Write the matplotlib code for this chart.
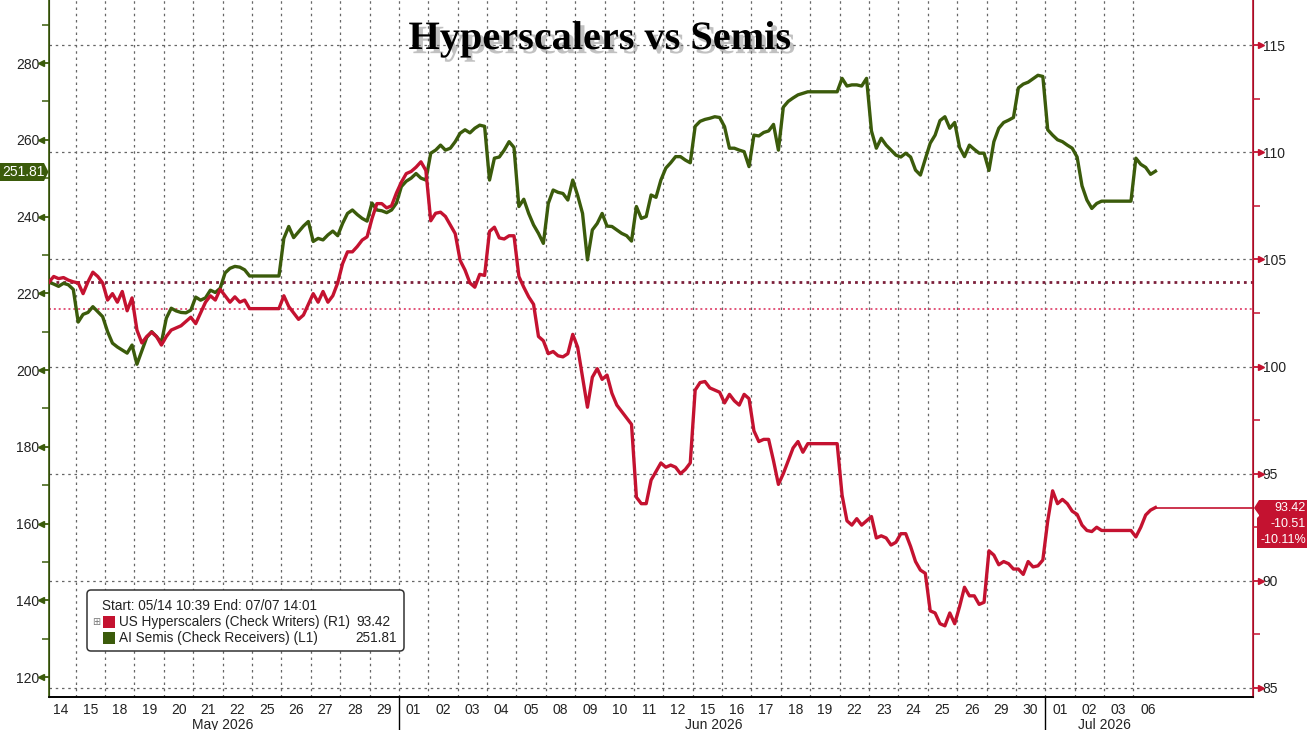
import numpy as np
import matplotlib.pyplot as plt
import matplotlib.patheffects as pe
from matplotlib.patches import FancyBboxPatch, Polygon, Rectangle
from matplotlib.transforms import Affine2D, blended_transform_factory

plt.rcParams["font.family"] = ["Liberation Sans", "DejaVu Sans"]

W, H = 1307, 730
RED = "#C41230"
GREEN = "#3B5B0B"

# trading days shown on the axis (May 14 - Jul 06 2026)
days = ["14", "15", "18", "19", "20", "21", "22", "25", "26", "27", "28", "29",
        "01", "02", "03", "04", "05", "08", "09", "10", "11", "12", "15", "16",
        "17", "18", "19", "22", "23", "24", "25", "26", "29", "30",
        "01", "02", "03", "06"]
months = ["May 2026", "Jun 2026", "Jul 2026"]
month_first_day = [0, 12, 34]
samples_per_day = 6

# AI Semis (Check Receivers), left axis, intraday readings per day
semis = [
    [222.9, 222.4, 221.8, 222.6, 222.2, 221.0],  # May 14
    [212.5, 214.5, 215.0, 216.5, 215.2, 213.9],  # 15
    [210.0, 207.0, 206.0, 205.2, 204.4, 206.5],  # 18
    [201.5, 205.0, 208.5, 210.0, 208.7, 207.2],  # 19
    [213.5, 216.1, 215.4, 215.0, 214.9, 215.6],  # 20
    [219.0, 218.2, 218.8, 220.8, 220.2, 221.3],  # 21
    [225.3, 226.5, 227.0, 226.8, 226.1, 224.5],  # 22
    [224.5, 224.5, 224.5, 224.5, 224.5, 224.5],  # 25 (closed)
    [234.3, 237.4, 234.5, 236.0, 237.5, 238.7],  # 26
    [233.5, 234.3, 233.9, 235.2, 236.2, 235.0],  # 27
    [238.2, 240.8, 241.7, 240.5, 239.5, 238.8],  # 28
    [243.5, 241.7, 241.5, 241.0, 241.7, 243.5],  # 29
    [247.8, 249.2, 250.0, 251.2, 250.0, 249.5],  # Jun 01
    [256.5, 257.3, 258.6, 257.3, 257.8, 259.5],  # 02
    [261.7, 262.6, 261.8, 263.0, 263.8, 263.5],  # 03
    [249.5, 255.2, 255.5, 257.3, 259.5, 258.0],  # 04
    [242.6, 244.5, 240.8, 237.8, 235.6, 233.0],  # 05
    [243.4, 246.9, 246.3, 246.0, 244.3, 249.5],  # 08
    [245.5, 240.8, 228.7, 236.5, 238.2, 240.8],  # 09
    [237.5, 237.4, 236.5, 235.6, 235.0, 233.6],  # 10
    [242.6, 239.5, 240.0, 245.6, 245.0, 249.5],  # 11
    [252.6, 254.0, 255.6, 255.6, 254.7, 254.0],  # 12
    [263.5, 264.8, 265.3, 265.6, 266.0, 265.8],  # 15
    [263.4, 257.8, 257.8, 257.3, 256.9, 253.0],  # 16
    [261.2, 261.0, 261.9, 262.3, 264.0, 257.3],  # 17
    [268.5, 270.0, 270.9, 271.7, 272.1, 272.5],  # 18
    [272.5, 272.5, 272.5, 272.5, 272.5, 272.5],  # 19 (closed)
    [276.0, 274.0, 274.3, 274.3, 274.0, 276.0],  # 22
    [262.3, 257.8, 260.4, 258.6, 257.3, 256.0],  # 23
    [255.5, 256.5, 255.5, 252.1, 250.8, 255.0],  # 24
    [259.1, 261.2, 265.0, 266.0, 263.0, 264.5],  # 25
    [258.0, 255.6, 258.6, 257.5, 256.5, 256.5],  # 26
    [252.0, 259.5, 263.0, 264.5, 265.1, 265.8],  # 29
    [273.5, 274.5, 275.0, 275.9, 276.8, 276.5],  # 30
    [262.6, 261.2, 260.0, 259.5, 258.6, 257.8],  # Jul 01
    [255.5, 248.0, 244.3, 242.1, 243.4, 244.0],  # 02
    [244.0, 244.0, 244.0, 244.0, 244.0, 244.0],  # 03 (closed)
    [255.2, 253.6, 252.8, 251.0, 251.81],        # 06
]

# US Hyperscalers (Check Writers), right axis
hyper = [
    [103.93, 104.2, 104.1, 104.15, 104.03, 103.95],  # May 14
    [103.9, 103.4, 103.95, 104.4, 104.2, 103.9],     # 15
    [103.1, 103.4, 103.0, 103.5, 102.6, 103.2],      # 18
    [101.7, 101.1, 101.4, 101.6, 101.4, 101.0],      # 19
    [101.4, 101.7, 101.8, 101.9, 102.1, 102.3],      # 20
    [102.0, 102.5, 103.0, 103.3, 103.1, 103.6],      # 21
    [103.3, 103.0, 103.25, 103.0, 103.1, 102.7],     # 22
    [102.7, 102.7, 102.7, 102.7, 102.7, 102.7],      # 25 (closed)
    [103.3, 102.8, 102.5, 102.2, 102.4, 102.9],      # 26
    [103.4, 103.0, 103.5, 103.0, 103.3, 103.9],      # 27
    [104.8, 105.35, 105.35, 105.6, 105.9, 106.05],   # 28
    [106.9, 107.6, 107.6, 107.4, 107.5, 108.1],      # 29
    [108.6, 109.0, 109.1, 109.3, 109.55, 109.15],    # Jun 01
    [106.8, 107.15, 107.2, 107.0, 106.6, 106.2],     # 02
    [104.95, 104.5, 103.9, 103.7, 104.3, 104.25],    # 03
    [106.3, 106.5, 106.0, 105.95, 106.1, 106.1],     # 04
    [104.2, 103.7, 103.25, 102.9, 101.4, 101.2],     # 05
    [100.6, 100.7, 100.5, 100.45, 100.6, 101.5],     # 08
    [100.9, 99.5, 98.1, 99.5, 99.9, 99.4],           # 09
    [99.6, 98.75, 98.2, 97.9, 97.6, 97.3],           # 10
    [93.9, 93.6, 93.6, 94.7, 95.1, 95.5],            # 11
    [95.3, 95.4, 95.3, 95.0, 95.2, 95.5],            # 12
    [98.9, 99.25, 99.3, 99.0, 98.9, 98.8],           # 15
    [98.3, 98.7, 98.4, 98.2, 98.7, 98.5],            # 16
    [97.0, 96.5, 96.6, 96.6, 95.6, 94.5],            # 17
    [95.0, 95.6, 96.2, 96.5, 96.0, 96.4],            # 18
    [96.4, 96.4, 96.4, 96.4, 96.4, 96.4],            # 19 (closed)
    [94.0, 92.8, 92.6, 92.9, 92.6, 92.8],            # 22
    [93.0, 92.0, 92.1, 92.0, 91.67, 91.8],           # 23
    [92.2, 92.2, 91.6, 90.9, 90.5, 90.35],           # 24
    [88.6, 88.5, 88.0, 87.9, 88.5, 88.0],            # 25
    [88.8, 89.7, 89.3, 89.3, 88.9, 89.0],            # 26
    [91.4, 91.2, 90.75, 90.9, 90.8, 90.55],          # 29
    [90.55, 90.3, 90.9, 90.65, 90.7, 90.97],         # 30
    [92.8, 94.2, 93.6, 93.8, 93.6, 93.25],           # Jul 01
    [93.1, 92.6, 92.35, 92.3, 92.5, 92.35],          # 02
    [92.35, 92.35, 92.35, 92.35, 92.35, 92.35],      # 03 (closed)
    [92.05, 92.5, 93.07, 93.3, 93.42],               # 06
]

hyper_start = 103.93
hyper_avg = 102.7
hyper_last, hyper_chg, hyper_pct = 93.42, -10.51, -10.11
semis_last = 251.81


def day_positions(series):
    xs, ys = [], []
    for i, vals in enumerate(series):
        for k, v in enumerate(vals):
            xs.append(i + (k + 0.5) / samples_per_day)
            ys.append(v)
    return np.array(xs), np.array(ys)


sx, sy = day_positions(semis)
hx, hy = day_positions(hyper)

fig = plt.figure(figsize=(W / 100, H / 100), dpi=100)
px = Affine2D().scale(1 / W, -1 / H).translate(0, 1) + fig.transFigure

ax = fig.add_axes([49 / W, 33 / H, 1204 / W, 697 / H])
ax2 = ax.twinx()
ax.set_xlim(0.09, 41.07)
ax.set_ylim(114.79, 296.42)
ax2.set_ylim(84.58, 117.1)

# grid, drawn below both lines
right_data = blended_transform_factory(ax.transAxes, ax2.transData)
for v in range(85, 116, 5):
    ax.plot([0, 1], [v, v], transform=right_data, color="#666666",
            lw=0.9, ls=(0, (2, 3)), zorder=0)
for d in range(1, len(days)):
    ax.axvline(d, color="#666666", lw=0.9, ls=(0, (2, 3)), zorder=0)
ax.plot([0, 1], [hyper_start, hyper_start], transform=right_data,
        color="#7B1F3A", lw=2, ls=(0, (1, 1.5)), zorder=1)
ax.plot([0, 1], [hyper_avg, hyper_avg], transform=right_data,
        color="#E2557A", lw=1.4, ls=(0, (1, 1.5)), zorder=1)

ax.plot(sx, sy, color=GREEN, lw=2.4, solid_joinstyle="round", zorder=3)
ax2.plot(hx, hy, color=RED, lw=2.4, solid_joinstyle="round", zorder=3)
ax2.plot([hx[-1], 41.07], [hyper_last, hyper_last], color=RED, lw=1.2,
         zorder=3)

# spines
for a in (ax, ax2):
    a.spines["top"].set_visible(False)
    a.spines["bottom"].set_color("black")
    a.spines["bottom"].set_linewidth(1.2)
ax2.spines["left"].set_color(GREEN)
ax2.spines["left"].set_linewidth(1.2)
ax2.spines["right"].set_color(RED)
ax2.spines["right"].set_linewidth(1.2)

# y ticks
ax.set_yticks(range(120, 281, 20))
ax.set_yticks(range(130, 291, 20), minor=True)
ax.tick_params(axis="y", which="major", length=6, width=1.3, color=GREEN,
               labelsize=10, labelcolor="#222222", pad=1)
ax.tick_params(axis="y", which="minor", length=5, width=1.1, color=GREEN)
ax2.set_yticks(range(85, 116, 5))
ax2.set_yticks(np.arange(87.5, 115, 5), minor=True)
ax2.tick_params(axis="y", which="major", length=6, width=1.3, color=RED,
                labelsize=10, labelcolor="#222222", pad=1)
ax2.tick_params(axis="y", which="minor", length=5, width=1.1, color=RED)

tri = 8.0 / 1204
ax.plot([-tri] * 9, list(range(120, 281, 20)), ls="none", marker="<", ms=4.5,
        color=GREEN, clip_on=False,
        transform=blended_transform_factory(ax.transAxes, ax.transData))
ax2.plot([1 + tri] * 7, list(range(85, 116, 5)), ls="none", marker=">", ms=4.5,
         color=RED, clip_on=False,
         transform=blended_transform_factory(ax2.transAxes, ax2.transData))

# x axis: day labels and month labels
ax.set_xticks([i + 0.5 for i in range(len(days))])
ax.set_xticklabels(days)
ax.tick_params(axis="x", length=0, pad=4, labelsize=10, labelcolor="#222222")
ax2.tick_params(axis="x", length=0, labelbottom=False, labeltop=False)
xdata_yaxes = blended_transform_factory(ax.transData, ax.transAxes)
month_centers = [6.0, 22.7, 36.0]
for name, c in zip(months, month_centers):
    ax.text(c, -0.0395, name, transform=xdata_yaxes, ha="center", va="center",
            fontsize=10, color="#222222")
for d in month_first_day[1:]:
    ax.plot([d, d], [0, -0.06], transform=xdata_yaxes, color="black", lw=1,
            clip_on=False)

# title
fig.text(600, 49, "Hyperscalers vs Semis", transform=px, ha="center",
         va="baseline", fontsize=29, fontweight="bold",
         family="Liberation Serif", color="black",
         path_effects=[pe.SimplePatchShadow(offset=(3, -3),
                                            shadow_rgbFace="#777777",
                                            alpha=0.45), pe.Normal()])

# last value tags
fig.patches.append(Polygon([(0, 163), (44, 163), (48.5, 172), (44, 181),
                            (0, 181)], closed=True, transform=px,
                           facecolor=GREEN, edgecolor="none"))
fig.text(23, 172, f"{semis_last:.2f}", transform=px, ha="center", va="center",
         fontsize=10, color="white")
fig.patches.append(Polygon([(1259, 500), (1310, 500), (1310, 548), (1257, 548),
                            (1257, 518), (1259, 516), (1259, 515),
                            (1254, 508)], closed=True,
                           transform=px, facecolor=RED, edgecolor="none"))
for y, s in zip([508, 524, 540], [f"{hyper_last:.2f}", f"{hyper_chg:.2f}",
                                  f"{hyper_pct:.2f}%"]):
    fig.text(1306, y, s, transform=px, ha="right", va="center", fontsize=9,
             color="white")

# legend box
fig.patches.append(FancyBboxPatch((87, 590), 317, 61,
                                  boxstyle="round,pad=0,rounding_size=4",
                                  transform=px, facecolor="white",
                                  edgecolor="#333333", lw=1.1))
fig.text(102, 606, "Start: 05/14 10:39 End: 07/07 14:01", transform=px,
         ha="left", va="center", fontsize=9.8, color="#222222")
fig.text(96, 622, "\u229e", transform=px, ha="center", va="center",
         fontsize=7, color="#777777", family="DejaVu Sans")
fig.patches.append(Rectangle((103, 616), 12, 12, transform=px,
                             facecolor=RED, edgecolor="none"))
fig.patches.append(Rectangle((103, 632), 12, 12, transform=px,
                             facecolor=GREEN, edgecolor="none"))
fig.text(119, 622, "US Hyperscalers (Check Writers) (R1)", transform=px,
         ha="left", va="center", fontsize=9.8, color="#222222")
fig.text(390, 622, f"{hyper_last:.2f}", transform=px, ha="right", va="center",
         fontsize=9.8, color="#222222")
fig.text(119, 638, "AI Semis (Check Receivers) (L1)", transform=px,
         ha="left", va="center", fontsize=9.8, color="#222222")
fig.text(397, 638, f"{semis_last:.2f}", transform=px, ha="right", va="center",
         fontsize=9.8, color="#222222")

fig.savefig("out.png", dpi=100, facecolor="white")
